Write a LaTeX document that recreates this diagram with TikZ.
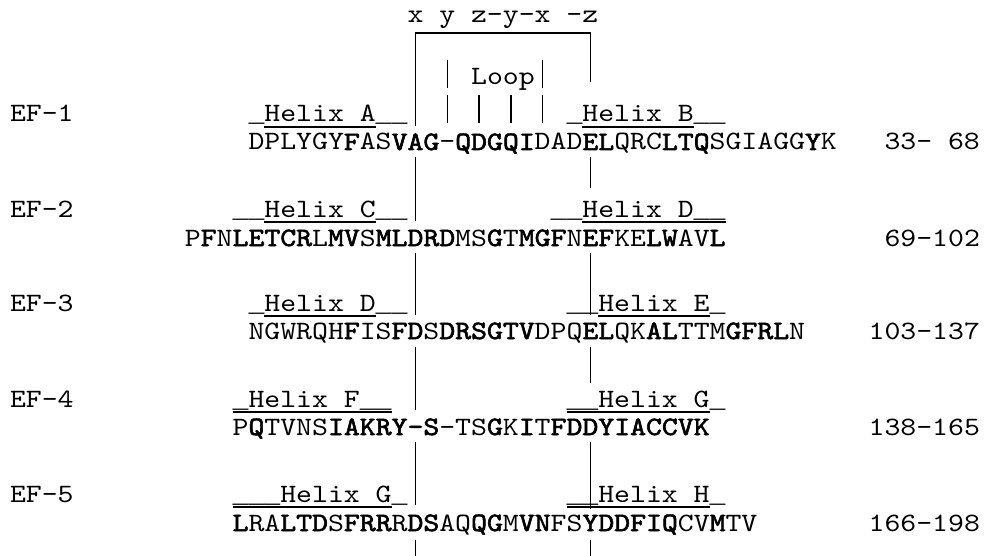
\documentclass[tikz,border=0pt]{standalone}
\usepackage{fontspec}
\setmonofont{lmmono10-regular.otf}[BoldFont=lmmono10-regular.otf, BoldFeatures={FakeBold=2.2}, FakeStretch=1.143]
\newfontfamily\usfont{Liberation Mono}
\newcommand{\bd}[1]{\textbf{#1}}
\newcommand{\us}{{\usfont\_}}
\tikzset{
  txt/.style={anchor=base west, inner sep=0pt, outer sep=0pt, font=\ttfamily\fontsize{26.5}{28}\selectfont},
  bar/.style={line width=1.6pt},
  thinbar/.style={line width=1.3pt},
  uline/.style={line width=2.8pt}
}
\begin{document}
\begin{tikzpicture}[x=15.9pt,y=-1pt]
\useasboundingbox (0pt,0pt) rectangle (987pt,-556pt);
\begin{scope}[xshift=10pt]
% top bracket and loop
\node[txt] (top) at (25,23) {x y z-y-x -z};
\coordinate (bl) at (25.5,126);
\coordinate (br) at (36.5,82);
\draw[bar] (bl) -- (25.5,33) -- (36.5,33) -- (br);
\node[txt] (loop) at (29,85) {Loop};
\draw[thinbar] (27.5,60) -- (27.5,88);
\draw[thinbar] (33.5,60) -- (33.5,88);
\foreach \c in {27.5,29.5,31.5,33.5} \draw[thinbar] (\c,95) -- (\c,123);
% row 1
\node[txt] (ef1) at (0,122) {EF-1};
\node[txt] (h1a) at (15,122) {\us Helix A\us\us};
\node[txt] (h1b) at (35,122) {\us Helix B\us\us};
\draw[uline] (16,127) -- (23,127);
\draw[uline] (36,127) -- (43,127);
\node[txt] (s1) at (15,150) {DPLYGY\bd{F}AS\bd{VAG}-\bd{QDGQI}DAD\bd{EL}QRC\bd{LTQ}SGIAGG\bd{Y}K};
\node[txt] (n1) at (55,150) {33- 68};
\draw[bar] (25.5,157) -- (25.5,221);
\draw[bar] (36.5,157) -- (36.5,188);
% row 2
\node[txt] (ef2) at (0,217) {EF-2};
\node[txt] (h2c) at (14,217) {\us\us Helix C\us\us};
\node[txt] (h2d) at (34,217) {\us\us Helix D\us\us};
\draw[uline] (16,222) -- (23,222);
\draw[uline] (36,222) -- (45,222);
\node[txt] (s2) at (11,246) {P\bd{F}N\bd{LETCR}L\bd{MV}S\bd{MLDRD}MS\bd{G}T\bd{MGF}N\bd{EF}KE\bd{LW}AV\bd{L}};
\node[txt] (n2) at (55,246) {69-102};
\draw[bar] (25.5,253) -- (25.5,315);
\draw[bar] (36.5,253) -- (36.5,315);
% row 3
\node[txt] (ef3) at (0,311) {EF-3};
\node[txt] (h3d) at (15,311) {\us Helix D\us\us};
\node[txt] (h3e) at (35,311) {\us\us Helix E\us};
\draw[uline] (16,316) -- (23,316);
\draw[uline] (37,316) -- (44,316);
\node[txt] (s3) at (15,339) {NGWRQH\bd{F}IS\bd{FD}S\bd{DRSGTV}DPQ\bd{EL}QK\bd{AL}TTM\bd{GFRL}N};
\node[txt] (n3) at (54,339) {103-137};
\draw[bar] (25.5,347) -- (25.5,410);
\draw[bar] (36.5,347) -- (36.5,383);
% row 4
\node[txt] (ef4) at (0,407) {EF-4};
\node[txt] (h4f) at (14,407) {\us Helix F\us\us};
\node[txt] (h4g) at (35,407) {\us\us Helix G\us};
\draw[uline] (14,412) -- (24,412);
\draw[uline] (35,412) -- (44,412);
\node[txt] (s4) at (14,435) {P\bd{Q}TVNS\bd{IAKRY-S}-TS\bd{G}K\bd{I}T\bd{FDDYIACCVK}};
\node[txt] (n4) at (54,435) {138-165};
\draw[bar] (25.5,442) -- (25.5,505);
\draw[bar] (36.5,442) -- (36.5,509);
% row 5
\node[txt] (ef5) at (0,502) {EF-5};
\node[txt] (h5g) at (14,502) {\us\us\us Helix G\us};
\node[txt] (h5h) at (35,502) {\us\us Helix H\us};
\draw[uline] (14,507) -- (24,507);
\draw[uline] (35,507) -- (44,507);
\node[txt] (s5) at (14,531) {\bd{L}RA\bd{LTD}S\bd{FRR}R\bd{DS}AQ\bd{QG}M\bd{VN}FS\bd{YDDFIQ}CV\bd{M}TV};
\node[txt] (n5) at (54,531) {166-198};
\draw[bar] (25.5,540) -- (25.5,556);
\draw[bar] (36.5,540) -- (36.5,556);
\end{scope}
\end{tikzpicture}
\end{document}
